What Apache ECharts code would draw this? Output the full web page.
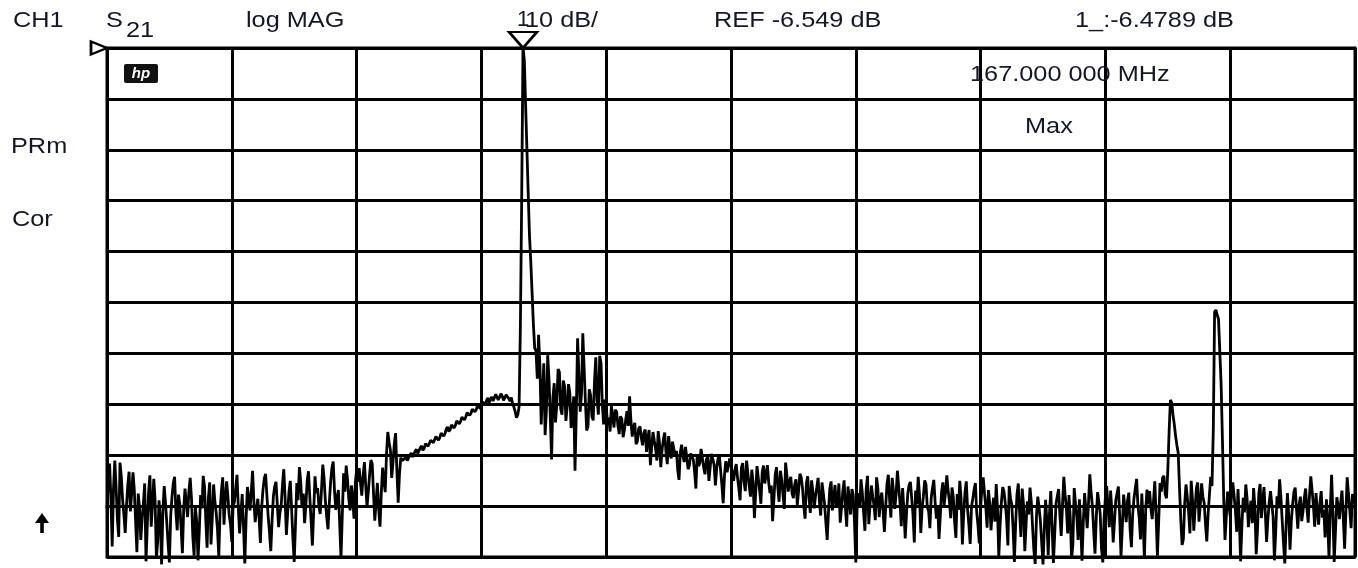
<!DOCTYPE html>
<html>
<head>
<meta charset="utf-8">
<script src="https://cdn.jsdelivr.net/npm/echarts@6/dist/echarts.min.js"></script>
<style>
  html, body { margin: 0; padding: 0; background: #fff; }
  #chart { width: 1358px; height: 568px; }
</style>
</head>
<body>
<div id="chart"></div>
<script>
// Sweep and display scale
const startMHz = 135;
const stopMHz = 231;
const refDb = -6.549;
const dbPerDiv = 10;
const divisions = 10;

// Marker 1 (peak search)
const markerMHz = [167.0];
const markerDb = [-6.4789];

// Annunciators
const channelLabels = ['CH1', 'S', '21', 'log MAG'];
const sideLabels = ['PRm', 'Cor'];
const markerModeLabel = 'Max';
const markerNames = ['1'];

// S21 log magnitude, dB, one value per sweep point (961 points, 0.1 MHz apart)
const s21Db = [
  // 135.0 - 144.7 MHz
  -97.0, -91.5, -88.2, -95.0, -104.5, -93.1, -87.6, -92.9, -99.1, -102.6,
  -88.0, -90.7, -95.3, -98.2, -101.8, -96.5, -92.4, -89.8, -97.6, -94.0,
  -89.9, -93.4, -99.5, -105.6, -94.1, -96.9, -103.2, -99.0, -96.0, -92.1,
  -107.4, -100.3, -93.8, -90.5, -100.6, -96.1, -91.2, -95.5, -106.9, -103.4,
  -95.4, -99.2, -108.0, -97.3, -92.6, -95.9, -99.8, -104.0, -107.6, -98.5,
  -94.7, -92.0, -90.8, -97.7, -101.3, -94.3, -96.2, -100.9, -105.8, -97.2,
  -93.1, -96.0, -98.7, -93.6, -91.0, -95.1, -102.5, -106.3, -96.8, -99.6,
  -107.2, -101.5, -94.4, -97.0, -90.6, -92.8, -99.3, -104.7, -95.0, -91.9,
  -104.1, -98.8, -92.3, -95.7, -97.9, -101.2, -106.5, -97.5, -93.6, -90.9,
  -100.2, -95.3, -91.7, -94.6, -98.4, -100.0, -103.6, -96.6,
  // 144.8 - 154.3 MHz
  -95.7, -93.0, -90.4, -96.8, -101.9, -98.0, -94.2, -100.5, -107.8, -99.1,
  -92.8, -94.9, -97.4, -93.6, -89.6, -95.8, -99.7, -97.2, -95.1, -98.9,
  -103.8, -96.7, -93.3, -91.1, -90.2, -94.5, -98.6, -101.7, -105.4, -99.3,
  -94.6, -92.7, -91.8, -96.2, -100.7, -97.9, -96.4, -92.3, -89.3, -95.0,
  -102.2, -97.8, -93.7, -91.6, -97.1, -102.9, -107.5, -100.1, -92.0, -95.4,
  -88.9, -91.7, -96.9, -94.1, -99.9, -96.3, -91.5, -89.7, -94.8, -99.4,
  -104.3, -97.6, -90.7, -94.0, -93.0, -96.6, -98.1, -93.3, -88.4, -91.2,
  -95.6, -98.7, -101.1, -96.0, -91.9, -89.1, -87.8, -93.5, -97.3, -95.0,
  -93.4, -100.2, -106.8, -98.3, -90.1, -93.7, -88.6, -91.3, -95.2, -97.4,
  -92.5, -94.9, -99.0, -92.2, -89.4, -91.8,
  // 154.4 - 157.7 MHz
  -89.1, -92.0, -94.5, -90.6, -87.9, -92.4, -96.7, -93.8, -90.3, -87.5,
  -88.2, -94.0, -99.4, -95.6, -92.0, -97.3, -100.6, -94.1, -89.0, -91.5,
  -93.8, -86.4, -82.0, -84.0, -85.5, -91.0, -88.0, -84.3, -82.2, -89.7,
  -95.9, -90.2, -87.0, -87.6,
  // 157.8 - 166.5 MHz
  -87.9, -87.2, -86.8, -87.6, -87.4, -86.5, -86.1, -86.9, -86.6, -85.8,
  -85.4, -86.2, -85.9, -85.1, -84.7, -85.6, -85.2, -84.3, -84.0, -84.8,
  -84.5, -83.6, -83.3, -84.1, -83.9, -82.9, -82.7, -83.6, -83.1, -82.2,
  -81.9, -82.8, -82.3, -81.4, -81.0, -81.9, -81.5, -80.6, -80.3, -81.2,
  -80.7, -79.8, -79.5, -80.4, -79.9, -79.1, -78.8, -79.6, -79.0, -78.2,
  -77.9, -78.7, -78.3, -77.5, -77.2, -78.0, -77.6, -76.8, -76.6, -77.4,
  -77.0, -76.1, -76.0, -76.7, -75.8, -75.3, -76.2, -75.5, -75.1, -75.9,
  -75.6, -74.6, -74.8, -75.7, -75.4, -74.5, -74.9, -75.8, -75.6, -74.7,
  -75.0, -75.4, -75.9, -75.2, -76.4, -77.1, -78.0, -79.2,
  // 166.6 - 167.9 MHz, carrier
  -78.6, -77.0, -61.0, -36.0, -6.4789, -8.9, -17.7, -26.3, -35.0, -43.5,
  -48.6, -54.7, -60.9, -65.5,
  // 168.0 - 173.5 MHz
  -66.0, -71.5, -62.9, -69.0, -80.5, -74.2, -68.5, -82.6, -77.8, -66.9,
  -71.6, -79.0, -87.4, -75.3, -72.4, -80.1, -76.5, -69.6, -70.2, -77.4,
  -78.6, -71.9, -73.0, -79.8, -77.0, -72.6, -74.3, -81.2, -79.3, -75.0,
  -89.6, -78.2, -63.6, -70.8, -78.0, -74.4, -62.6, -69.3, -76.0, -81.7,
  -80.9, -73.6, -74.8, -78.9, -79.7, -72.0, -67.3, -75.8, -78.6, -67.0,
  -68.5, -76.4, -80.5, -75.6, -77.3, -80.0,
  // 173.6 - 183.1 MHz
  -79.2, -81.9, -76.8, -79.0, -81.1, -77.6, -78.0, -80.7, -82.4, -78.9,
  -79.4, -83.0, -81.6, -79.6, -77.9, -80.8, -75.0, -79.7, -82.9, -81.0,
  -80.2, -84.4, -83.8, -81.3, -80.9, -83.1, -84.6, -82.2, -81.5, -85.9,
  -83.2, -81.6, -88.5, -84.8, -82.0, -83.7, -85.3, -87.6, -81.8, -84.2,
  -88.9, -85.4, -83.4, -82.1, -86.0, -88.3, -82.8, -85.2, -87.2, -83.9,
  -84.1, -86.7, -85.7, -89.4, -91.4, -86.0, -84.5, -86.6, -87.9, -84.9,
  -85.0, -89.3, -88.6, -86.2, -85.9, -87.4, -89.8, -93.1, -86.4, -88.7,
  -88.1, -85.3, -85.6, -89.0, -90.3, -87.5, -86.8, -91.6, -88.9, -86.3,
  -86.1, -88.4, -92.5, -89.1, -87.3, -86.5, -89.5, -92.4, -96.0, -90.5,
  -87.7, -89.9, -90.2, -87.2, -86.9, -90.0,
  // 183.2 - 192.7 MHz
  -91.6, -89.5, -88.3, -90.9, -93.0, -95.4, -89.0, -88.1, -91.8, -93.6,
  -87.6, -90.2, -92.6, -94.7, -89.4, -92.0, -98.9, -93.9, -88.7, -91.1,
  -93.4, -96.1, -89.9, -88.6, -92.1, -90.4, -88.5, -91.9, -94.0, -92.5,
  -99.5, -95.2, -90.4, -88.9, -92.8, -95.7, -89.6, -91.4, -94.4, -97.1,
  -88.0, -90.6, -93.7, -91.8, -90.8, -94.1, -95.0, -92.3, -91.3, -96.4,
  -93.5, -90.2, -90.9, -93.0, -96.6, -99.0, -92.0, -90.7, -94.8, -97.9,
  -91.5, -93.8, -97.0, -94.6, -92.9, -91.0, -95.6, -98.4, -91.9, -94.0,
  -96.2, -99.9, -103.2, -97.6, -93.1, -91.7, -97.4, -95.1, -92.4, -96.5,
  -95.9, -92.1, -99.8, -96.9, -93.6, -91.5, -96.8, -100.6, -92.7, -95.3,
  -98.2, -93.2, -94.3, -99.7, -107.6, -97.0,
  // 192.8 - 202.3 MHz
  -94.0, -96.8, -91.3, -93.9, -97.8, -101.4, -93.2, -90.6, -100.1, -96.0,
  -92.5, -94.7, -96.4, -99.3, -90.9, -93.1, -98.7, -95.2, -93.9, -97.6,
  -101.6, -96.6, -92.2, -90.4, -95.3, -98.8, -91.0, -93.8, -97.1, -94.2,
  -89.6, -92.7, -95.8, -100.5, -93.0, -97.3, -102.9, -98.1, -94.1, -92.4,
  -91.8, -95.0, -98.3, -103.7, -93.5, -96.2, -90.8, -94.4, -101.8, -97.0,
  -94.6, -91.5, -92.3, -96.8, -97.5, -100.9, -95.0, -93.0, -91.4, -95.7,
  -99.0, -96.4, -103.0, -98.5, -93.7, -91.9, -96.3, -94.0, -90.5, -93.4,
  -95.6, -98.9, -92.9, -94.8, -99.6, -102.8, -94.2, -97.3, -91.6, -95.1,
  -104.1, -98.0, -93.8, -91.7, -97.2, -100.3, -104.0, -96.6, -95.1, -93.3,
  -92.0, -97.7, -100.4, -103.9, -96.9, -93.0,
  // 202.4 - 215.1 MHz
  -90.9, -94.0, -96.7, -100.8, -93.4, -95.9, -101.3, -97.5, -94.9, -99.6,
  -92.2, -97.1, -106.6, -100.2, -95.8, -92.8, -93.7, -96.0, -99.2, -104.3,
  -92.6, -95.0, -96.3, -101.1, -107.5, -99.7, -94.2, -92.1, -97.8, -102.6,
  -93.1, -96.2, -105.4, -100.0, -95.6, -98.2, -92.9, -95.7, -100.8, -105.3,
  -107.9, -98.4, -94.7, -96.9, -99.5, -103.8, -108.0, -101.0, -95.3, -99.6,
  -106.2, -97.9, -93.6, -100.5, -107.7, -102.1, -96.1, -94.6, -93.2, -98.3,
  -102.4, -96.4, -90.8, -94.3, -97.0, -101.9, -94.4, -99.0, -106.9, -104.0,
  -93.0, -96.1, -98.6, -103.2, -95.2, -100.4, -107.3, -99.8, -94.0, -97.2,
  -100.9, -96.0, -90.3, -93.9, -96.5, -101.5, -105.9, -98.7, -93.8, -95.8,
  -98.0, -104.9, -107.6, -99.0, -94.8, -92.6, -96.9, -100.7, -93.5, -97.8,
  -103.7, -99.5, -95.4, -94.0, -92.7, -98.6, -106.4, -100.8, -94.3, -96.8,
  -99.7, -95.5, -93.9, -101.2, -104.6, -98.1, -95.0, -93.1, -91.2, -96.3,
  -98.8, -103.1, -94.1, -99.9, -106.8, -97.4, -93.3, -96.2,
  // 215.2 - 221.5 MHz, two spurs
  -93.6, -97.0, -99.1, -95.6, -91.7, -98.4, -106.3, -99.5, -92.0, -93.7,
  -91.0, -90.6, -94.2, -95.0, -89.5, -82.0, -75.7, -76.2, -78.6, -80.5,
  -82.8, -84.6, -86.1, -93.0, -99.3, -104.2, -103.0, -96.0, -92.3, -94.8,
  -97.6, -101.9, -91.6, -95.3, -101.4, -97.0, -93.0, -91.9, -99.6, -96.2,
  -92.1, -94.7, -96.0, -100.1, -103.5, -98.2, -94.4, -90.8, -92.6, -81.6,
  -58.4, -58.0, -59.0, -59.8, -66.2, -72.5, -83.2, -95.0, -103.2, -98.7,
  -93.7, -96.4, -98.5, -94.6,
  // 221.6 - 231.0 MHz
  -91.9, -94.5, -97.5, -101.6, -93.2, -99.0, -107.4, -100.4, -94.9, -97.8,
  -92.3, -95.1, -100.7, -97.3, -95.5, -99.9, -93.0, -96.7, -106.0, -101.3,
  -94.1, -92.2, -98.9, -95.6, -92.8, -97.9, -103.6, -99.1, -95.8, -93.6,
  -93.4, -98.6, -107.2, -101.7, -94.6, -97.0, -91.3, -94.8, -99.4, -103.9,
  -107.8, -100.2, -94.0, -98.3, -105.1, -99.6, -96.2, -93.8, -92.9, -97.1,
  -101.0, -96.3, -94.7, -99.5, -97.6, -95.0, -93.1, -96.9, -99.8, -94.4,
  -90.7, -93.5, -96.4, -100.6, -94.0, -97.5, -100.2, -96.1, -93.6, -98.8,
  -97.3, -102.7, -95.2, -99.4, -106.7, -97.2, -90.4, -98.0, -107.5, -101.4,
  -94.8, -96.5, -99.1, -95.8, -93.5, -98.9, -104.9, -97.7, -90.9, -94.3,
  -97.4, -100.9, -94.2, -95.4, -96.0
];

const stepMHz = (stopMHz - startMHz) / (s21Db.length - 1);
const tracePoints = s21Db.map((v, i) => [startMHz + i * stepMHz, v]);

const bottomDb = refDb - dbPerDiv * divisions;
const ink = '#15152b';
const font = '22px "Liberation Sans", Arial, sans-serif';

function fmtFreq(mhz) {
  const s = mhz.toFixed(6);
  return s.slice(0, s.length - 3) + ' ' + s.slice(s.length - 3) + ' MHz';
}

// Annunciator text, slightly wide like the instrument's display font
function label(text, x, y) {
  return {
    type: 'text', x: x, y: y, scaleX: 1.15, silent: true, z: 10,
    style: {
      text: text, x: 0, y: 0, font: font, fill: ink,
      align: 'left', verticalAlign: 'middle',
      textAlign: 'left', textVerticalAlign: 'middle'
    }
  };
}

const chart = echarts.init(document.getElementById('chart'), null, { renderer: 'canvas' });

// The marker symbol sits on the graticule edge when the trace peaks above it
const markerShownDb = Math.min(markerDb[0], refDb);

const option = {
  animation: false,
  backgroundColor: '#fff',
  grid: {
    left: 107, top: 48, width: 1248, height: 509,
    show: true, borderColor: '#000', borderWidth: 3, backgroundColor: '#fff'
  },
  xAxis: {
    type: 'value', min: startMHz, max: stopMHz,
    interval: (stopMHz - startMHz) / divisions,
    axisLine: { show: false }, axisTick: { show: false }, axisLabel: { show: false },
    splitLine: { show: true, lineStyle: { color: '#000', width: 3 } }
  },
  yAxis: {
    type: 'value', min: bottomDb, max: refDb, interval: dbPerDiv,
    axisLine: { show: false }, axisTick: { show: false }, axisLabel: { show: false },
    splitLine: { show: true, lineStyle: { color: '#000', width: 3 } }
  },
  series: [{
    type: 'line',
    data: tracePoints,
    showSymbol: false,
    symbol: 'none',
    clip: false,
    silent: true,
    z: 5,
    lineStyle: { color: '#000', width: 2.8 },
    markPoint: {
      silent: true,
      animation: false,
      data: [
        {
          coord: [markerMHz[0], markerShownDb],
          symbol: 'path://M0,0 L28,0 L14,16 Z',
          symbolSize: [28, 16],
          symbolOffset: [0, '-50%'],
          itemStyle: { color: '#fff', borderColor: '#000', borderWidth: 2.5 },
          label: {
            show: true, position: 'top', distance: 0,
            formatter: markerNames[0], color: ink,
            fontSize: 22, lineHeight: 22, fontFamily: '"Liberation Sans", Arial, sans-serif'
          }
        },
        {
          // reference position pointer
          coord: [startMHz, refDb],
          symbol: 'path://M0,0 L16,6.5 L0,13 Z',
          symbolSize: [16, 13],
          symbolOffset: ['-50%', 0],
          itemStyle: { color: '#fff', borderColor: '#000', borderWidth: 2.5 },
          label: { show: false }
        }
      ]
    }
  }],
  graphic: [
    label(channelLabels[0], 13, 21),
    label(channelLabels[1], 106, 21),
    label(channelLabels[2], 126, 31),
    label(channelLabels[3], 246, 21),
    label(dbPerDiv + ' dB/', 525, 21),
    label('REF ' + refDb.toFixed(3) + ' dB', 714, 21),
    label(markerNames[0] + '_:' + markerDb[0].toFixed(4) + ' dB', 1075, 21),
    label(fmtFreq(markerMHz[0]), 970, 75),
    label(markerModeLabel, 1025, 127),
    label(sideLabels[0], 11, 147),
    label(sideLabels[1], 12, 220),
    {
      // stimulus arrow
      type: 'group', x: 42, y: 513, z: 10, silent: true,
      children: [
        { type: 'polygon', shape: { points: [[-7, 10], [0, 0], [7, 10]] }, style: { fill: '#000' } },
        { type: 'rect', shape: { x: -1.8, y: 9, width: 3.6, height: 11 }, style: { fill: '#000' } }
      ]
    },
    {
      type: 'group', x: 124, y: 64, z: 10, silent: true,
      children: [
        { type: 'rect', shape: { x: 0, y: 0, width: 34, height: 19, r: 2 }, style: { fill: '#111' } },
        {
          type: 'text',
          style: {
            text: 'hp', x: 17, y: 10, fill: '#fff',
            font: 'italic bold 15px "Liberation Sans", Arial, sans-serif',
            align: 'center', verticalAlign: 'middle', textAlign: 'center', textVerticalAlign: 'middle'
          }
        }
      ]
    }
  ]
};

chart.setOption(option);
</script>
</body>
</html>
